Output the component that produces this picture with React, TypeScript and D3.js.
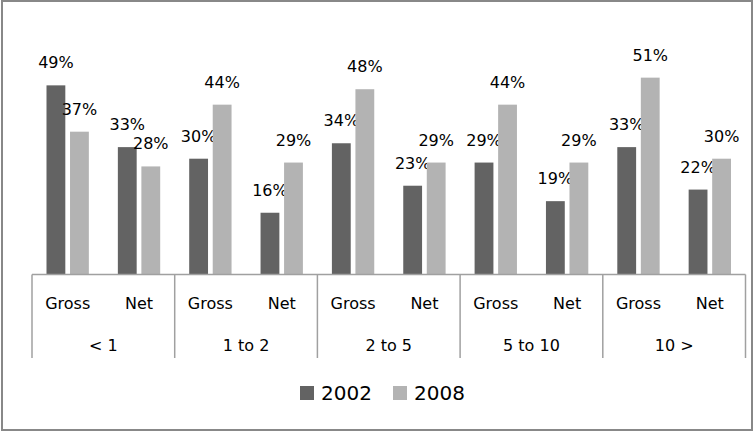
import React from "react";
import * as d3 from "d3";

const groups = ["< 1", "1 to 2", "2 to 5", "5 to 10", "10 >"];
const subs = ["Gross", "Net"];
const seriesNames = ["2002", "2008"];
const values2002 = [49, 33, 30, 16, 34, 23, 29, 19, 33, 22];
const values2008 = [37, 28, 44, 29, 48, 29, 44, 29, 51, 30];
const colors = ["#636363", "#b3b3b3"];

const W = 755;
const H = 432;
const left = 32;
const right = 745.5;
const baseY = 274.5;

export default function App() {
  const keys = groups.flatMap((g) => subs.map((s) => `${g}|${s}`));
  const x = d3.scaleBand<string>().domain(keys).range([left, right]).padding(0);
  const gx = d3.scaleBand<string>().domain(groups).range([left, right]).padding(0);
  const inner = d3
    .scaleBand<string>()
    .domain(seriesNames)
    .range([14.5, x.bandwidth() - 14.5])
    .paddingInner(0.2);
  const y = d3.scaleLinear().domain([0, 60]).range([baseY, baseY - 3.86 * 60]);
  const series = [values2002, values2008];
  const font = "'DejaVu Sans', sans-serif";

  return (
    <svg
      width={W}
      height={H}
      style={{ position: "absolute", left: 0, top: 0, display: "block", background: "#fff" }}
      fontFamily={font}
    >
      <rect x={2} y={1} width={750} height={429} fill="#fff" stroke="#888" strokeWidth={2} />
      {series.map((vals, si) =>
        vals.map((v, i) => {
          const k = keys[i];
          const bx = (x(k) as number) + (inner(seriesNames[si]) as number);
          const bw = inner.bandwidth();
          return (
            <g key={`${si}-${i}`}>
              <rect x={bx} y={y(v)} width={bw} height={baseY - y(v)} fill={colors[si]} />
              <text x={bx + bw / 2} y={y(v) - 17} textAnchor="middle" fontSize={16} fill="#000">
                {v}%
              </text>
            </g>
          );
        })
      )}
      <line x1={left} x2={right} y1={baseY} y2={baseY} stroke="#a0a0a0" strokeWidth={1.5} />
      {[...groups.map((g) => gx(g) as number), right].map((px, i) => (
        <line key={i} x1={px} x2={px} y1={baseY} y2={358} stroke="#a0a0a0" strokeWidth={1.5} />
      ))}
      {keys.map((k) => (
        <text
          key={k}
          x={(x(k) as number) + x.bandwidth() / 2}
          y={309}
          textAnchor="middle"
          fontSize={16}
          fill="#000"
        >
          {k.split("|")[1]}
        </text>
      ))}
      {groups.map((g) => (
        <text
          key={g}
          x={(gx(g) as number) + gx.bandwidth() / 2}
          y={350.5}
          textAnchor="middle"
          fontSize={16}
          fill="#000"
        >
          {g}
        </text>
      ))}
      {seriesNames.map((s, i) => {
        const lx = [300, 393][i];
        return (
          <g key={s}>
            <rect x={lx} y={386} width={14} height={14} fill={colors[i]} />
            <text x={lx + 21} y={400} fontSize={20} fill="#000">
              {s}
            </text>
          </g>
        );
      })}
    </svg>
  );
}
